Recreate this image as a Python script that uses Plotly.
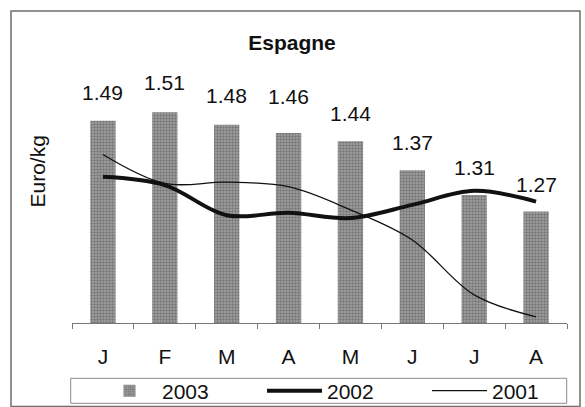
import plotly.graph_objects as go

months = ["J", "F", "M", "A", "M", "J", "J", "A"]
prices_2003 = [1.49, 1.51, 1.48, 1.46, 1.44, 1.37, 1.31, 1.27]
prices_2002 = [1.354, 1.334, 1.261, 1.267, 1.254, 1.286, 1.320, 1.294]
prices_2001 = [1.408, 1.338, 1.341, 1.330, 1.274, 1.201, 1.068, 1.015]
label_texts = ["1.49", "1.51", "1.48", "1.46", "1.44", "1.37", "1.31", "1.27"]

# styling: pixel lift of each data label above its bar
label_lift = [28, 30, 29, 37, 28, 28, 27, 27]

FONT = "Liberation Sans, Arial, sans-serif"
FS = 21
W, H = 585, 407
L, R, T, B = 72, 18, 60, 84
PW, PH = W - L - R, H - T - B

def px_x(p):
    return (p - L) / PW

def px_y(p):
    return (H - B - p) / PH

idx = list(range(len(months)))

fig = go.Figure()
fig.add_trace(go.Bar(
    x=idx, y=prices_2003, name="2003",
    marker=dict(color="#8a8a8a",
                pattern=dict(shape=".", size=3, solidity=0.5,
                             fgcolor="#4a4a4a", bgcolor="#a2a2a2"),
                line=dict(width=0)),
))
fig.add_trace(go.Scatter(
    x=idx, y=prices_2002, name="2002", mode="lines",
    line=dict(color="#111111", width=4, shape="spline", smoothing=1.0),
))
fig.add_trace(go.Scatter(
    x=idx, y=prices_2001, name="2001", mode="lines",
    line=dict(color="#111111", width=1.3, shape="spline", smoothing=1.0),
))
# boundary ticks axis
fig.add_trace(go.Scatter(x=[-0.5, 7.5], y=[1.0, 1.0], xaxis="x2", mode="lines",
                         line=dict(width=0), showlegend=False, hoverinfo="skip"))

annotations = []
for i, (v, t, s) in enumerate(zip(prices_2003, label_texts, label_lift)):
    annotations.append(dict(x=i, y=v, text=t, showarrow=False, yshift=s,
                            xanchor="center", yanchor="middle",
                            font=dict(family=FONT, size=FS, color="#111111")))
annotations.append(dict(x=px_x(37), y=px_y(171.5), xref="paper", yref="paper",
                        text="Euro/kg", textangle=-90, showarrow=False,
                        xanchor="center", yanchor="middle",
                        font=dict(family=FONT, size=FS, color="#111111")))

shapes = [
    dict(type="rect", xref="paper", yref="paper",
         x0=px_x(11), x1=px_x(580), y0=px_y(406.5), y1=px_y(11),
         line=dict(color="#6e6e6e", width=1.5), layer="below"),
    dict(type="rect", xref="paper", yref="paper",
         x0=px_x(70.7), x1=px_x(566.7), y0=px_y(403.3), y1=px_y(378.3),
         line=dict(color="#8a8a8a", width=1), layer="below"),
]

fig.update_layout(
    width=W, height=H,
    margin=dict(l=L, r=R, t=T, b=B, autoexpand=False),
    paper_bgcolor="white", plot_bgcolor="white",
    font=dict(family=FONT, size=FS, color="#111111"),
    title=dict(text="<b>Espagne</b>", x=292 / W, xanchor="center",
               y=1 - 42.5 / H, yanchor="middle",
               font=dict(family=FONT, size=21, color="#111111")),
    bargap=0.59,
    showlegend=True,
    legend=dict(orientation="h", x=px_x(97), y=px_y(391), xanchor="left",
                yanchor="middle", entrywidth=95, entrywidthmode="pixels",
                font=dict(family=FONT, size=FS, color="#111111"),
                bgcolor="rgba(0,0,0,0)", itemwidth=55),
    xaxis=dict(range=[-0.5, 7.5], tickvals=idx, ticktext=months,
               ticks="", showline=False, showgrid=False, zeroline=False,
               ticklabelstandoff=19, fixedrange=True),
    xaxis2=dict(range=[-0.5, 7.5], overlaying="x", anchor="y", side="bottom",
                tickvals=[i - 0.5 for i in range(len(months) + 1)],
                ticks="outside", ticklen=5, tickcolor="#777777",
                showticklabels=False, showline=True, linecolor="#777777",
                linewidth=1, showgrid=False, zeroline=False),
    yaxis=dict(range=[1.0, 1.0 + PH / 413.0], visible=False, fixedrange=True),
    annotations=annotations,
    shapes=shapes,
)

fig.write_html(
    "out.html",
    config={"displayModeBar": False},
    post_script="document.body.style.margin='0';document.body.style.overflow='hidden';",
)
